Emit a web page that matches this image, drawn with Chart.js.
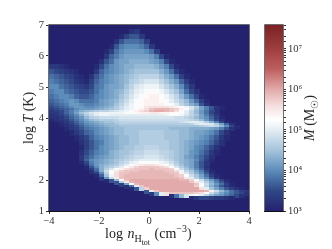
<!DOCTYPE html>
<html>
<head>
<meta charset="utf-8">
<script src="https://cdn.jsdelivr.net/npm/chart.js@4"></script>
<style>
html, body { margin: 0; padding: 0; background: #fff; }
#wrap { position: relative; width: 332px; height: 249px; overflow: hidden; font-family: "Liberation Serif", serif; color: #222; }
canvas { position: absolute; left: 0; top: 0; }
.lab { position: absolute; font-size: 14px; white-space: nowrap; line-height: 1; font-weight: normal; }
.rot { transform: translate(-50%, -50%) rotate(-90deg); }
sub, sup { font-size: 10px; line-height: 0; }
sub sub { font-size: 8px; }
</style>
</head>
<body>
<div id="wrap">
  <canvas id="heat" width="332" height="249"></canvas>
  <canvas id="cbar" width="332" height="249"></canvas>
  <div class="lab rot" style="left:29px;top:118px">log <i>T</i> (K)</div>
  <div class="lab" style="left:105px;top:227px;word-spacing:1px">log <i>n</i><sub>H<sub>tot</sub></sub> (cm<sup>−3</sup>)</div>
  <div class="lab rot" style="left:310px;top:118px"><i>M</i> (M<sub>☉</sub>)</div>
</div>
<script>
// log T bin edges, top to bottom (finer through the 10^4 K bands and the cold edge)
const rowEdges = [7,6.84,6.68,6.52,6.36,6.2,6.04,5.88,5.72,5.56,5.4,5.24,5.08,4.92,4.76,4.6,4.44,
  4.37,4.3,4.23,4.16,4.09,4.02,3.95,3.88,3.81,3.74,3.67,3.6,
  3.44,3.28,3.12,2.96,2.8,2.64,
  2.57,2.5,2.43,2.36,2.29,2.22,2.15,2.08,2.01,1.94,1.87,1.8,1.73,1.66,1.59,1.52,1.45,1.38]
// first filled column of each row, columns are 0.2 dex wide from log n = -4
const rowStart = [0,16,14,13,12,11,11,10,0,0,0,0,0,0,0,0,
  0,0,0,0,0,0,0,0,0,0,0,0,
  4,5,6,6,6,6,
  6,6,7,7,8,8,9,9,10,11,13,14,15,16,19,20,24,28]
// log10 M x 10, anything not listed is empty background
const cellLogM = [
  [],
  [32,33],
  [31,34,36,36,33],
  [32,36,38,38,38,37,34],
  [31,36,39,40,40,40,39,37,33],
  [31,34,38,40,41,41,41,41,40,38,34],
  [33,37,39,41,42,42,42,42,42,41,39,35,31],
  [32,36,38,41,42,42,43,43,43,43,42,41,39,35,31],
  [33,33,32,31,30,30,30,30,30,31,35,38,40,41,42,43,43,44,44,44,44,43,41,39,35,31],
  [36,35,34,33,32,31,30,30,30,33,37,39,40,41,42,43,44,45,45,45,45,45,43,41,38,34,31],
  [38,37,36,35,34,32,31,30,32,36,38,40,41,42,43,44,45,46,47,47,47,47,45,43,41,38,34,31],
  [39,38,37,36,35,33,32,31,34,37,39,40,41,42,43,44,46,47,48,49,49,49,47,45,43,41,37,34,31],
  [40,40,38,37,36,35,34,33,35,38,39,41,42,42,43,45,47,49,50,51,51,51,49,47,45,43,40,36,33],
  [39,40,40,38,37,36,35,35,36,38,40,41,42,43,44,46,48,50,51,52,53,52,51,49,47,45,42,38,35,32],
  [38,39,40,40,39,37,36,36,37,39,40,41,42,43,45,47,49,51,52,53,54,54,53,51,49,47,44,41,38,35,31],
  [37,38,39,40,41,40,38,38,38,39,41,42,43,44,46,48,50,52,53,54,54,54,53,52,50,48,46,44,41,38,34,31],
  [36,37,38,39,41,41,40,39,39,40,41,42,43,45,47,49,51,52,53,54,54,54,54,53,52,50,47,45,43,41,36,32],
  [35,36,37,38,40,41,41,40,40,41,42,43,44,46,48,50,51,52,53,55,56,56,56,56,55,54,53,51,49,46,42,39,36,33,31],
  [34,35,36,37,38,40,41,41,41,42,43,44,45,46,48,50,51,52,54,56,58,59,59,59,58,57,54,52,49,45,42,39,36,32],
  [33,34,35,37,39,41,43,44,45,46,47,47,48,49,50,51,52,54,56,57,59,60,60,59,58,56,53,50,47,44,41,38,35],
  [33,33,35,37,39,42,45,47,49,50,51,51,51,51,51,52,52,53,54,54,55,55,54,54,53,53,52,50,47,44,41,38,35,32],
  [32,33,34,36,38,40,43,46,48,50,51,51,50,50,50,50,50,50,50,50,50,50,50,51,52,52,51,49,47,45,42,39,36,33],
  [32,32,33,35,37,39,41,44,46,47,48,48,48,48,49,49,49,49,49,49,49,49,49,49,49,48,48,47,46,44,42,40,37,34,31],
  [31,32,33,34,36,38,40,42,44,45,46,46,46,47,48,48,48,48,48,48,48,48,48,48,48,48,48,48,47,46,44,41,38,35,32],
  [30,31,32,33,35,37,39,41,42,43,44,45,45,46,47,47,47,47,47,47,47,47,47,47,47,47,48,49,50,50,49,46,43,39,35,31],
  [30,30,31,32,34,36,38,40,41,42,43,44,44,45,46,46,46,46,46,46,46,46,46,46,46,46,46,46,47,49,50,50,49,46,42,37,32],
  [30,30,31,32,33,35,37,39,40,41,42,43,44,44,45,45,45,45,45,45,45,45,45,45,45,45,45,45,45,45,46,47,48,47,44,40,35,31],
  [30,30,30,31,33,34,36,38,39,40,41,42,43,44,44,45,45,45,45,45,45,45,45,45,44,44,44,44,43,43,43,43,42,41,39,36,32],
  [31,33,35,37,38,40,41,42,43,44,44,45,45,45,46,46,46,46,46,45,45,45,44,44,43,42,42,41,40,38,35,32],
  [31,33,35,37,39,40,41,42,43,44,44,45,45,46,46,46,46,46,45,45,45,44,44,43,42,41,40,38,36,33,31],
  [32,34,36,38,39,41,42,43,44,44,45,45,46,46,46,46,46,46,45,45,44,43,42,41,40,39,37,35,32],
  [31,34,36,38,40,41,42,43,44,45,45,46,46,47,47,47,46,46,45,45,44,43,42,40,39,37,35,32],
  [32,35,37,39,40,41,43,44,45,45,46,47,47,48,48,48,47,47,46,45,44,43,41,40,38,36,33,31],
  [33,36,38,40,41,42,43,44,45,46,47,48,48,49,49,49,48,47,46,45,44,42,41,39,37,35,32],
  [33,37,40,41,42,43,44,45,46,47,48,49,50,50,50,50,49,48,47,45,44,43,42,40,37,34,31],
  [31,35,39,41,42,43,44,45,47,48,50,51,52,52,52,52,51,50,48,46,44,43,42,39,36,33],
  [33,38,41,43,44,45,46,48,50,52,54,55,56,56,55,54,52,50,47,45,43,42,39,36,33],
  [31,36,40,43,45,46,48,50,53,55,57,58,58,58,58,57,56,53,49,46,44,42,39,36,32],
  [34,38,43,46,49,52,54,56,57,58,58,58,59,58,58,58,57,52,48,45,43,40,37,33],
  [32,37,43,48,52,55,57,58,58,58,59,59,59,59,59,58,58,56,51,47,45,42,39,35,31],
  [34,40,47,53,56,58,58,59,59,59,59,59,59,59,59,58,58,54,49,46,43,40,36,32],
  [31,37,45,51,56,58,59,59,59,59,59,59,59,59,59,59,58,57,52,48,45,42,38,34,31],
  [33,41,48,55,58,59,59,59,59,59,59,59,59,59,59,59,58,55,50,46,43,40,36,32],
  [31,36,44,53,58,60,60,60,60,60,60,60,60,60,60,59,59,57,52,48,44,41,38,34,31],
  [36,46,55,59,60,60,60,60,60,60,60,60,60,60,60,58,55,50,46,43,39,36,32],
  [34,42,52,59,60,60,60,60,60,60,60,60,60,60,60,58,53,48,44,41,38,34,31],
  [32,38,50,58,60,60,60,60,60,60,60,60,60,60,57,52,47,43,40,36,33,31],
  [31,36,47,57,60,60,60,60,60,60,60,60,60,60,56,50,45,42,39,36,34,32,31],
  [36,50,58,60,60,60,60,60,60,60,60,60,59,54,48,44,41,38,36,34,33,32],
  [33,40,50,56,58,58,58,58,58,57,56,53,48,45,42,40,38,36,35,32],
  [32,38,44,49,51,52,50,47,44,42,41,39,37,35,32],
  [31,33,35,35,34,33,33,32,31]
]
const xTicks = [-4,-2,0,2,4]
const yTicks = [1,2,3,4,5,6,7]
const cbarMin = 1e3
const cbarMax = 3.9e7

// colour scale stops: log M, r, g, b
const cmapLog = [3,3.5,4,4.5,5,5.25,5.6,6,6.5,7,7.6]
const cmapRgb = [[36,33,110],[48,72,135],[92,140,186],[165,196,220],[228,237,244],[255,255,255],
  [245,222,222],[226,170,170],[190,95,95],[158,62,62],[122,34,38]]

function cmap(v) {
  let i = 0
  while (i < cmapLog.length - 2 && v > cmapLog[i + 1]) i++
  let t = Math.min(1, Math.max(0, (v - cmapLog[i]) / (cmapLog[i + 1] - cmapLog[i])))
  let a = cmapRgb[i], b = cmapRgb[i + 1]
  return 'rgb(' + [0,1,2].map(k => Math.round(a[k] + (b[k] - a[k]) * t)).join(',') + ')'
}

let cells = []
cellLogM.forEach((row, r) => {
  row.forEach((v, j) => {
    let c = rowStart[r] + j
    cells.push({ x: -4 + 0.2 * (c + 0.5), y: (rowEdges[r] + rowEdges[r + 1]) / 2, r: r, v: v / 10 })
  })
})

// a point style is a little canvas, so a cell can be wider than it is tall
let swatches = {}
function cellStyle(ctx) {
  let p = ctx.raw
  let sx = ctx.chart.scales.x, sy = ctx.chart.scales.y
  let w = Math.ceil(sx.getPixelForValue(0.2) - sx.getPixelForValue(0)) + 1
  let h = Math.ceil(sy.getPixelForValue(rowEdges[p.r + 1]) - sy.getPixelForValue(rowEdges[p.r])) + 1
  let key = w + '_' + h + '_' + p.v
  if (!swatches[key]) {
    let cv = document.createElement('canvas')
    cv.width = w
    cv.height = h
    let g = cv.getContext('2d')
    g.fillStyle = cmap(p.v)
    g.fillRect(0, 0, w, h)
    swatches[key] = cv
  }
  return swatches[key]
}

const panelBg = {
  id: 'panelBg',
  beforeDatasetsDraw(chart) {
    let a = chart.chartArea
    chart.ctx.fillStyle = cmap(3)
    chart.ctx.fillRect(a.left, a.top, a.width, a.height)
  }
}
const frame = {
  id: 'frame',
  afterDraw(chart) {
    let a = chart.chartArea, c = chart.ctx
    c.save()
    c.strokeStyle = '#6e6e6e'
    c.lineWidth = 1
    c.beginPath()
    c.moveTo(a.left - 0.5, a.bottom)
    c.lineTo(a.left - 0.5, a.top - 0.5)
    c.lineTo(a.right + 0.5, a.top - 0.5)
    c.lineTo(a.right + 0.5, a.bottom)
    c.stroke()
    c.strokeStyle = '#111'
    c.beginPath()
    c.moveTo(a.left - 1, a.bottom + 0.5)
    c.lineTo(a.right + 1, a.bottom + 0.5)
    c.stroke()
    c.restore()
  }
}

const tickFont = { family: '"Liberation Serif", serif', size: 10.5 }

new Chart(document.getElementById('heat'), {
  type: 'scatter',
  data: {
    datasets: [{
      data: cells,
      pointStyle: cellStyle,
      pointRadius: 1,
      pointHoverRadius: 1
    }]
  },
  plugins: [panelBg, frame],
  options: {
    responsive: false,
    animation: false,
    layout: { padding: { top: 25, right: 83, left: 0, bottom: 0 } },
    plugins: { legend: { display: false }, tooltip: { enabled: false } },
    events: [],
    scales: {
      x: {
        type: 'linear', min: -4, max: 4,
        afterFit(s) { s.height = 38 },
        afterBuildTicks(s) { s.ticks = xTicks.map(v => ({ value: v })) },
        grid: { drawOnChartArea: false, tickLength: 3, tickColor: '#333' },
        border: { display: false },
        ticks: { font: tickFont, color: '#333', padding: 1, maxRotation: 0, callback: v => String(v).replace('-', '−') }
      },
      y: {
        type: 'linear', min: 1, max: 7,
        afterFit(s) { s.width = 49 },
        afterBuildTicks(s) { s.ticks = yTicks.map(v => ({ value: v })) },
        grid: { drawOnChartArea: false, tickLength: 3, tickColor: '#333' },
        border: { display: false },
        ticks: { font: tickFont, color: '#333', padding: 2 }
      }
    }
  }
})

const supDigits = { 3: '³', 4: '⁴', 5: '⁵', 6: '⁶', 7: '⁷' }

new Chart(document.getElementById('cbar'), {
  type: 'bar',
  data: {
    labels: [''],
    datasets: [{
      data: [[cbarMin, cbarMax]],
      barPercentage: 1,
      categoryPercentage: 1,
      backgroundColor(ctx) {
        let a = ctx.chart.chartArea
        if (!a) return cmap(3)
        let g = ctx.chart.ctx.createLinearGradient(0, a.bottom, 0, a.top)
        let span = Math.log10(cbarMax) - 3
        cmapLog.forEach(v => g.addColorStop(Math.min(1, (v - 3) / span), cmap(v)))
        return g
      }
    }]
  },
  plugins: [frame],
  options: {
    responsive: false,
    animation: false,
    layout: { padding: { top: 25, right: 0, left: 265, bottom: 38 } },
    plugins: { legend: { display: false }, tooltip: { enabled: false } },
    events: [],
    scales: {
      x: { display: false },
      y: {
        type: 'logarithmic', position: 'right', min: cbarMin, max: cbarMax,
        afterFit(s) { s.width = 49 },
        grid: { drawOnChartArea: false, tickLength: 3, tickColor: '#333' },
        border: { display: false },
        ticks: {
          autoSkip: false, font: tickFont, color: '#333', padding: 2,
          callback(v) {
            let e = Math.log10(v)
            return Math.abs(e - Math.round(e)) < 1e-6 ? '10' + supDigits[Math.round(e)] : ''
          }
        }
      }
    }
  }
})
</script>
</body>
</html>
